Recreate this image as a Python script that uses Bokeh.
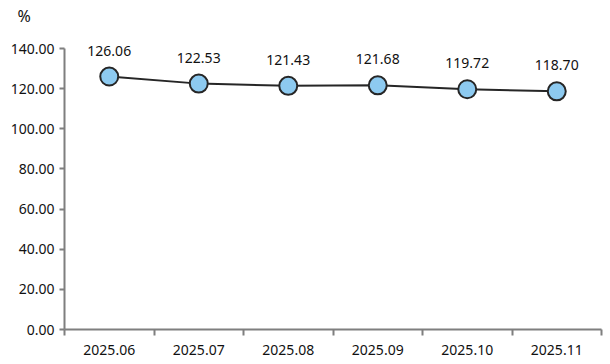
from bokeh.plotting import figure
from bokeh.models import ColumnDataSource, FixedTicker, Range1d, NumeralTickFormatter, LabelSet
from bokeh.core.properties import value
from bokeh.embed import file_html
from bokeh.resources import INLINE

months = ["2025.06", "2025.07", "2025.08", "2025.09", "2025.10", "2025.11"]
values = [126.06, 122.53, 121.43, 121.68, 119.72, 118.70]
y_ticks = [0, 20, 40, 60, 80, 100, 120, 140]
unit = "%"

FONT = "Noto Sans"
xs = [i + 0.5 for i in range(len(months))]
src = ColumnDataSource(dict(x=xs, y=values, lab=[f"{v:.2f}" for v in values]))

p = figure(width=606, height=360, output_backend="svg", toolbar_location=None,
           x_range=Range1d(0, len(months)), y_range=Range1d(0, 150),
           min_border_left=64, min_border_right=5, min_border_top=28, min_border_bottom=31,
           title=unit)
p.outline_line_color = None
p.xgrid.visible = False
p.ygrid.visible = False

p.title.align = "left"
p.title.offset = -47
p.title.text_font = FONT
p.title.text_font_size = "16px"
p.title.text_font_style = "normal"
p.title.text_color = "#111111"
p.title.standoff = 4

p.line("x", "y", source=src, line_color="#262626", line_width=2)
p.scatter("x", "y", source=src, size=18, fill_color="#8DCAF0", line_color="#262626", line_width=2)

labels = LabelSet(x="x", y="y", text="lab", source=src, y_offset=21, text_align="center",
                  text_baseline="bottom", text_font=value(FONT), text_font_size=value("14px"),
                  text_color="#111111")
p.add_layout(labels)

xa = p.xaxis[0]
xa.ticker = FixedTicker(ticks=xs, minor_ticks=list(range(len(months) + 1)))
xa.major_label_overrides = {x: m for x, m in zip(xs, months)}
xa.major_tick_out = 0
xa.major_tick_in = 0
xa.minor_tick_out = 6
xa.minor_tick_in = 0
xa.minor_tick_line_color = "#7f7f7f"
xa.minor_tick_line_width = 2
xa.axis_line_color = "#7f7f7f"
xa.axis_line_width = 2
xa.major_label_standoff = 9
xa.major_label_text_font = FONT
xa.major_label_text_font_size = "14px"
xa.major_label_text_color = "#111111"

ya = p.yaxis[0]
ya.ticker = FixedTicker(ticks=y_ticks, minor_ticks=[])
ya.bounds = (0, 140)
ya.formatter = NumeralTickFormatter(format="0.00")
ya.major_tick_out = 5
ya.major_tick_in = 0
ya.major_tick_line_color = "#7f7f7f"
ya.major_tick_line_width = 2
ya.axis_line_color = "#7f7f7f"
ya.axis_line_width = 2
ya.major_label_standoff = 5
ya.major_label_text_font = FONT
ya.major_label_text_font_size = "14px"
ya.major_label_text_color = "#111111"

open("out.html", "w").write(file_html(p, INLINE))
